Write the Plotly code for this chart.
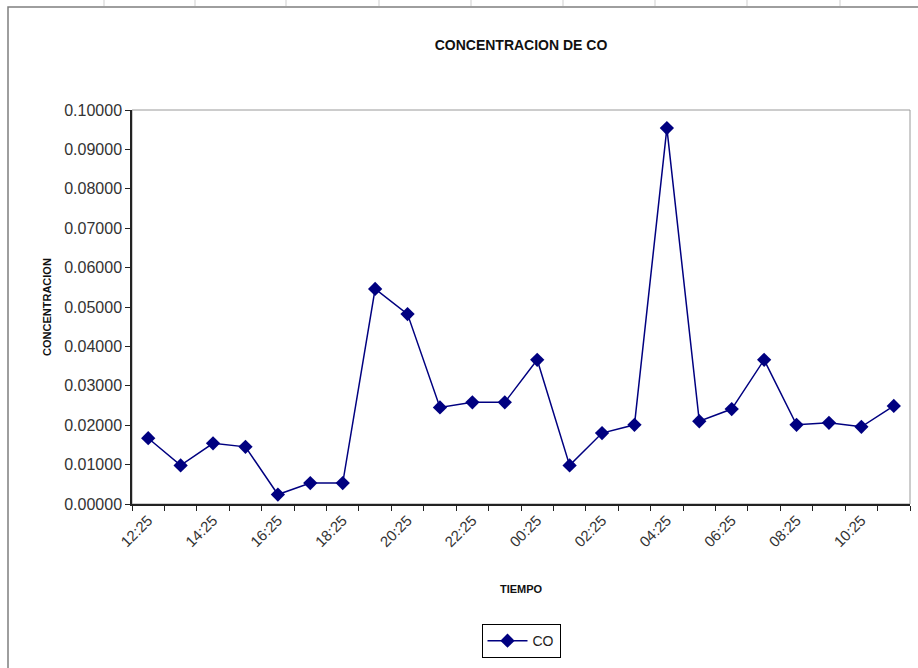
import plotly.graph_objects as go

# Hourly CO readings
horas = ["12:25", "13:25", "14:25", "15:25", "16:25", "17:25", "18:25", "19:25",
         "20:25", "21:25", "22:25", "23:25", "00:25", "01:25", "02:25", "03:25",
         "04:25", "05:25", "06:25", "07:25", "08:25", "09:25", "10:25", "11:25"]
co = [0.0167, 0.0098, 0.0154, 0.0145, 0.0024, 0.0053, 0.0053, 0.0546,
      0.0482, 0.0245, 0.0258, 0.0258, 0.0366, 0.0098, 0.0180, 0.0201,
      0.0954, 0.0210, 0.0241, 0.0366, 0.0201, 0.0206, 0.0196, 0.0249]
y_ticks = [0.0, 0.01, 0.02, 0.03, 0.04, 0.05, 0.06, 0.07, 0.08, 0.09, 0.10]

idx = list(range(len(horas)))
label_idx = idx[::2]

NAVY = "#000080"
FONT = "Liberation Sans, Arial, sans-serif"

fig = go.Figure()
fig.add_trace(go.Scatter(
    x=idx, y=co, name="CO", mode="lines+markers",
    line=dict(color=NAVY, width=1.5),
    marker=dict(symbol="diamond", size=11, color=NAVY),
))

fig.update_layout(
    width=918, height=668,
    margin=dict(l=132, r=8, t=110, b=164),
    paper_bgcolor="white", plot_bgcolor="white",
    font=dict(family=FONT, color="#333333"),
    title=dict(text="<b>CONCENTRACION DE CO</b>", x=0.5, xref="paper",
               y=1 - 45 / 668, yanchor="middle",
               font=dict(size=14, color="#111111", family=FONT)),
    showlegend=True,
    legend=dict(x=0.5, xanchor="center", y=-0.348, yanchor="middle",
                bordercolor="#000000", borderwidth=1, bgcolor="white",
                font=dict(size=14, color="#222222"), itemwidth=40),
    xaxis=dict(
        range=[-0.5, len(horas) - 0.5], tickmode="array",
        tickvals=label_idx, ticktext=[horas[i] for i in label_idx],
        tickangle=-45, ticks="", showgrid=False, zeroline=False,
        showline=True, linecolor="#222222", linewidth=1.5,
        tickfont=dict(size=15, color="#333333"),
        minor=dict(ticks="outside", tick0=-0.5, dtick=1, ticklen=5,
                   tickcolor="#222222", showgrid=False),
        title=dict(text="<b>TIEMPO</b>", font=dict(size=11, color="#111111"),
                   standoff=36),
    ),
    yaxis=dict(
        range=[0, 0.1], tickmode="array", tickvals=y_ticks,
        tickformat=".5f", ticks="outside", ticklen=5, tickcolor="#222222",
        showgrid=False, zeroline=False, showline=True,
        linecolor="#222222", linewidth=1.5,
        tickfont=dict(size=16, color="#333333"),
        title=dict(text="<b>CONCENTRACION</b>",
                   font=dict(size=11, color="#111111"), standoff=10),
    ),
)

# Plot-area outline (top/right edges) and outer chart-area frame
fig.add_shape(type="rect", xref="paper", yref="paper", x0=0, x1=1, y0=0, y1=1,
              line=dict(color="#9a9a9a", width=1), layer="below")
fig.add_shape(type="rect", xref="paper", yref="paper",
              x0=(8 - 132) / 778, x1=(930 - 132) / 778,
              y0=(504 - 680) / 394, y1=(504 - 7) / 394,
              line=dict(color="#7f7f7f", width=1.5))

# Faint worksheet cell edges peeking out around the chart frame
for px in [104, 195, 286, 379, 471, 563, 655, 747, 840]:
    fig.add_shape(type="line", xref="paper", yref="paper",
                  x0=(px - 132) / 778, x1=(px - 132) / 778,
                  y0=(504 - 0) / 394, y1=(504 - 6) / 394,
                  line=dict(color="#cfcfcf", width=1))

fig.write_html("out.html")
